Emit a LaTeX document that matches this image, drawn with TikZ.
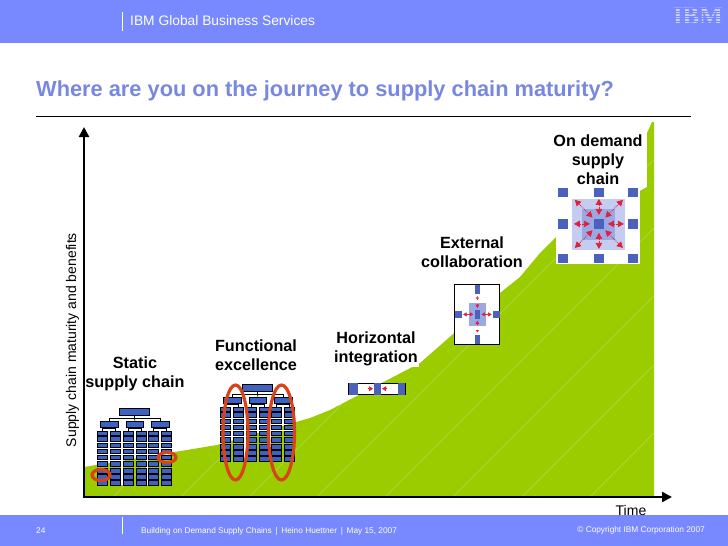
\documentclass[tikz,border=0pt]{standalone}
\usepackage{fontspec}
\setmainfont{Liberation Sans}
\newfontfamily\logofont{Liberation Serif}
\usetikzlibrary{arrows.meta,positioning,calc}
\definecolor{band}{HTML}{7888FF}
\definecolor{titleblue}{HTML}{7888E0}
\definecolor{leaf}{HTML}{9ACC00}
\definecolor{leafline}{HTML}{B4DA50}
\definecolor{orgblue}{HTML}{3C62C4}
\definecolor{iconblue}{HTML}{4A62BC}
\definecolor{iconlight}{HTML}{C4CDF0}
\definecolor{iconmid}{HTML}{9AA9E4}
\definecolor{ringred}{HTML}{D8431C}
\definecolor{arrowred}{HTML}{E0203C}
\tikzset{
  steplabel/.style={font=\fontsize{16.2}{19}\selectfont\bfseries,align=center,fill=white,inner sep=1pt},
  orgbox/.style={draw=black,fill=orgblue,line width=.8pt,inner sep=0pt,anchor=north west},
  orgwire/.style={draw=black,line width=.8pt},
  ring/.style={draw=ringred,line width=3.2pt},
  iconframe/.style={draw=black,fill=white,line width=.9pt,inner sep=0pt,anchor=north west},
  iconblock/.style={fill=iconblue,inner sep=0pt,anchor=north west},
  iconarr/.style={draw=arrowred,densely dotted,line width=.8pt,{Triangle[length=6pt,width=6.5pt]}-{Triangle[length=6pt,width=6.5pt]}},
  axisarr/.style={draw=black,line width=2.4pt,-{Triangle[length=10pt,width=10pt]}},
  footnote/.style={font=\fontsize{8.3}{10}\selectfont,text=white,anchor=west,inner sep=0pt},
}
% org chart, #1 = name, #2 = offset of the top box
\newcommand{\orgchart}[2]{%
  \begin{scope}[shift={#2}]
    \node[orgbox,minimum width=30pt,minimum height=7pt] (#1top) at (119.3,408.3) {};
    \foreach \n/\x in {a/100,b/125.7,c/151.3}
      \node[orgbox,minimum width=17.5pt,minimum height=6pt] (#1\n) at (\x,420.7) {};
    % white bands between the columns
    \foreach \x in {121.5,147}
      \fill[white] (\x-1,428) rectangle (\x+1,485);
    \fill[white] (97,453.7) rectangle (171.5,455);
    \foreach \n/\x in {p/97.3,q/110.3,r/122.7,s/135.7,t/148.3,u/161.3}
      \foreach \k/\y/\h in {1/430.7/3.8,2/436/5.3,3/442.7/4.6,4/448.7/4.6,5/455.3/4,6/461.3/4.4,7/468/4.7,8/474/4.7,9/480/4.7}
        \node[orgbox,minimum width=10pt,minimum height=\h pt] (#1\n\k) at (\x,\y) {};
    \draw[orgwire] (#1top.south) -- ++(0,2.4) coordinate (#1hub);
    \draw[orgwire] (#1a.north) |- (#1hub) -| (#1c.north);
    \draw[orgwire] (#1hub) -- (#1b.north);
    \draw[orgwire] (#1a.south) -- ++(0,1) -| (#1p1.north);
    \draw[orgwire] (#1a.south) -- ++(0,1) -| (#1q1.north);
    \draw[orgwire] (#1b.south) -- ++(0,1) -| (#1r1.north);
    \draw[orgwire] (#1b.south) -- ++(0,1) -| (#1s1.north);
    \draw[orgwire] (#1c.south) -- ++(0,1) -| (#1t1.north);
    \draw[orgwire] (#1c.south) -- ++(0,1) -| (#1u1.north);
  \end{scope}}
\begin{document}
\begin{tikzpicture}[x=1pt,y=-1pt]
\useasboundingbox (0,0) rectangle (728,546);
\fill[white] (0,0) rectangle (728,546);
% header and footer
\fill[band] (0,0) rectangle (728,43);
\fill[band] (0,515) rectangle (728,546);
\coordinate (headtop) at (122,12);
\coordinate (headend) at (122,31);
\draw[white,line width=.7pt] (headtop) -- (headend);
\node[font=\fontsize{13.8}{15}\selectfont,text=white,anchor=west,inner sep=0pt] (unit) at (130,20.5) {IBM Global Business Services};
\node[font=\fontsize{25}{25}\selectfont\logofont\bfseries,text=white!60!band,inner sep=0pt] (logo) at (698,16) {IBM};
\foreach \y in {8,10.5,13,15.5,18,20.5,23}
  \fill[band] (670,\y) rectangle (726,\y+.9);
\coordinate (foottop) at (122,517);
\coordinate (footend) at (122,534);
\draw[white,line width=.7pt] (foottop) -- (footend);
\node[footnote] (pageno) at (36,531) {24};
\node[footnote] (talk) at (141,531) {Building on Demand Supply Chains \,|\, Heino Huettner \,|\, May 15, 2007};
\node[footnote,anchor=east] (copy) at (705,530) {© Copyright IBM Corporation 2007};
% title
\node[font=\fontsize{21.8}{24}\selectfont\bfseries,text=titleblue,anchor=west,inner sep=0pt] (title) at (36,91) {Where are you on the journey to supply chain maturity?};
\coordinate (ruleL) at (36,116);
\coordinate (ruleR) at (691,116);
\draw[black,line width=.8pt] (ruleL) -- (ruleR);
% growth area
\fill[leaf] (84,467) -- (217,445) -- (310,418) -- (330,410) -- (420,363) -- (500,293) -- (520,277) -- (540,253) -- (556,237)
  -- (647,187) -- (647,133) -- (652,122) -- (654,122) -- (654,497) -- (84,497) -- cycle;
\begin{scope}
  \clip (84,467) -- (217,445) -- (310,418) -- (330,410) -- (420,363) -- (500,293) -- (520,277) -- (540,253) -- (556,237)
  -- (647,187) -- (647,133) -- (652,122) -- (654,122) -- (654,497) -- (84,497) -- cycle;
  \foreach \x in {113,181,249,317,385,453,522,590}
    \draw[leafline,line width=.5pt] (\x,497) -- ++(400,-400);
\end{scope}
% white panels and labels of the stages
\fill[white] (556,130) rectangle (647,187);
\fill[white] (556,187) rectangle (639.5,264);
\node[steplabel] (static) at (135,374) {Static\\supply chain};
\node[steplabel] (functional) at (256,355.5) {Functional\\excellence};
\node[steplabel] (horizontal) at (376,349) {Horizontal\\integration};
\node[steplabel] (external) at (472,252) {External\\collaboration};
\node[steplabel,fill=none] (ondemand) at (598,159.5) {On demand\\supply\\chain};
% axes
\coordinate (origin) at (84,497);
\coordinate (ytip) at (84,127);
\coordinate (xtip) at (672,497);
\coordinate (xstart) at (82.8,497);
\draw[axisarr] (origin) -- (ytip);
\draw[axisarr] (xstart) -- (xtip);
\node[font=\fontsize{14}{14}\selectfont,rotate=90,inner sep=0pt] (ylabel) at (72.5,340) {Supply chain maturity and benefits};
\node[font=\fontsize{14}{15}\selectfont,inner sep=0pt] (xlabel) at (631,510) {Time};
% org charts
\orgchart{st}{(0,0)}
\orgchart{fn}{(123,-24)}
\draw[ring] (101,475) ellipse (9 and 5.5);
\draw[ring] (167,457.5) ellipse (9 and 5);
\draw[ring] (235.5,432.5) ellipse (12.5 and 47.5);
\draw[ring] (281.5,432.5) ellipse (13 and 47.5);
% horizontal icon
\node[iconframe,minimum width=56.4pt,minimum height=11.6pt] (hframe) at (348.3,382.7) {};
\node[iconblock,minimum width=8.3pt,minimum height=11.6pt] (hleft) at (349,382.7) {};
\node[iconblock,minimum width=6.7pt,minimum height=11.6pt] (hmid) at (374,382.7) {};
\node[iconblock,minimum width=7.4pt,minimum height=11.6pt] (hright) at (397.3,382.7) {};
\draw[arrowred,-{Triangle[length=4pt,width=5pt]},line width=.6pt] ([xshift=-6pt]hmid.west) -- ([xshift=-1pt]hmid.west);
\draw[arrowred,-{Triangle[length=4pt,width=5pt]},line width=.6pt] ([xshift=6pt]hmid.east) -- ([xshift=1pt]hmid.east);
% external icon
\node[iconframe,minimum width=45pt,minimum height=59.7pt] (eframe) at (454.3,284.3) {};
\node[iconblock,fill=iconmid,minimum width=17.7pt,minimum height=23.4pt] (elight) at (468.3,302.3) {};
\node[iconblock,minimum width=5.7pt,minimum height=8.3pt] (ecore) at (474.3,310) {};
\foreach \n/\x/\y/\w/\h in {top/474.3/284.3/5.7/9,bot/474.3/335/5.7/9,lft/454.3/310.7/7.4/7,rgt/492.7/310.7/6.6/7}
  \node[iconblock,minimum width=\w pt,minimum height=\h pt] (e\n) at (\x,\y) {};
\draw[arrowred,-{Triangle[length=3.5pt,width=4pt]},line width=.5pt] ([xshift=-1pt]elft.east) ++(8,0) -- ++(-6,0);
\draw[arrowred,-{Triangle[length=3.5pt,width=4pt]},line width=.5pt] ([xshift=1pt]ergt.west) ++(-8,0) -- ++(6,0);
\draw[arrowred,-{Triangle[length=3.5pt,width=4pt]},line width=.5pt] (ecore.west) ++(-5,0) -- ++(4,0);
\draw[arrowred,-{Triangle[length=3.5pt,width=4pt]},line width=.5pt] (ecore.east) ++(5,0) -- ++(-4,0);
\draw[arrowred,-{Triangle[length=3.5pt,width=4pt]},line width=.5pt] (ecore.north) ++(0,-6) -- ++(0,4);
\draw[arrowred,-{Triangle[length=3.5pt,width=4pt]},line width=.5pt] (ecore.south) ++(0,6) -- ++(0,-4);
\draw[arrowred,-{Triangle[length=2.5pt,width=3pt]},line width=.5pt] (etop.south) ++(0,5.5) -- ++(0,-3);
\draw[arrowred,-{Triangle[length=2.5pt,width=3pt]},line width=.5pt] (ebot.north) ++(0,-5.5) -- ++(0,3);
% on demand icon
\node[iconblock,fill=iconlight,minimum width=53.3pt,minimum height=51.7pt] (dlight) at (571.7,198.3) {};
\node[iconblock,fill=iconmid,minimum width=33.3pt,minimum height=31.7pt] (dmid) at (581.7,208.3) {};
\foreach \n/\x/\y in {a/557.3/187.3,b/593.3/187.3,c/627.3/187.3,d/557.3/219,f/627.3/219,g/557.3/253.6,h/593.3/253.6,i/627.3/253.6}
  \node[iconblock,minimum width=10.8pt,minimum height=9.4pt] (d\n) at (\x,\y) {};
\node[iconblock,minimum width=10.8pt,minimum height=9.4pt] (dcore) at (593.3,219) {};
\foreach \a in {0,45,...,315}
  \draw[iconarr] ($(dcore.center)+(\a:9)$) -- ($(dcore.center)+(\a:{mod(\a,90)==0?25:34})$);
\end{tikzpicture}
\end{document}
